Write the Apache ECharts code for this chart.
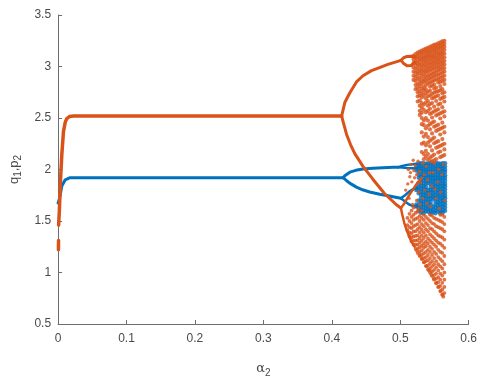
<!DOCTYPE html>
<html>
<head>
<meta charset="utf-8">
<script src="https://cdn.jsdelivr.net/npm/echarts@6/dist/echarts.min.js"></script>
<style>
  html, body { margin: 0; padding: 0; background: #fff; }
  #chart { width: 480px; height: 383px; }
</style>
</head>
<body>
<div id="chart"></div>
<script>
// Bifurcation diagram of q1 (blue) and p2 (orange) against alpha2.

// Axis ticks
const xTicks = [0, 0.1, 0.2, 0.3, 0.4, 0.5, 0.6];
const yTicks = [0.5, 1, 1.5, 2, 2.5, 3, 3.5];

// ---- q1 (blue): stable branch and period-doubling branches ----
const blueMain = [[0, 1.674], [0.0022, 1.72], [0.0055, 1.84], [0.0104, 1.9], [0.0176, 1.92], [0.4168, 1.92]];
const blueUpper = [[0.4168, 1.92], [0.419, 1.94], [0.4216, 1.957], [0.4264, 1.974], [0.435, 1.992], [0.4456, 2.005], [0.46, 2.012], [0.4745, 2.017], [0.49, 2.021], [0.497, 2.023]];
const blueUpperA = [[0.497, 2.023], [0.503, 2.035], [0.51, 2.045], [0.518, 2.052], [0.525, 2.056]];
const blueUpperB = [[0.497, 2.023], [0.503, 2.02], [0.51, 2.015], [0.518, 2.012], [0.525, 2.01]];
const blueLower = [[0.4168, 1.92], [0.4195, 1.905], [0.4216, 1.891], [0.428, 1.86], [0.436, 1.829], [0.445, 1.803], [0.4553, 1.782], [0.47, 1.76], [0.484, 1.742], [0.495, 1.728], [0.501, 1.72]];
const blueLowerA = [[0.501, 1.72], [0.507, 1.75], [0.513, 1.785], [0.519, 1.81], [0.525, 1.82]];
const blueLowerB = [[0.501, 1.72], [0.507, 1.69], [0.513, 1.66], [0.519, 1.645], [0.525, 1.635]];

// q1 chaotic band: [alpha2, [values]]
const blueBand = [
  [0.5235, [2.045, 2.02, 1.99, 1.83, 1.80, 1.66, 1.64]],
  [0.527, [2.06, 2.035, 2.01, 1.98, 1.95, 1.92, 1.87, 1.83, 1.80, 1.77, 1.70, 1.66, 1.63, 1.60]],
  [0.5305, [2.06, 2.035, 2.01, 1.985, 1.955, 1.93, 1.90, 1.87, 1.845, 1.815, 1.785, 1.755, 1.725, 1.695, 1.665, 1.635, 1.605, 1.58]],
  [0.534, [2.06, 2.03, 2.005, 1.975, 1.95, 1.92, 1.895, 1.865, 1.835, 1.81, 1.78, 1.75, 1.72, 1.69, 1.66, 1.63, 1.60, 1.575]],
  [0.5375, [2.055, 2.03, 2.0, 1.975, 1.945, 1.915, 1.89, 1.86, 1.83, 1.80, 1.775, 1.745, 1.715, 1.685, 1.655, 1.625, 1.595]],
  [0.541, [2.06, 2.035, 2.005, 1.98, 1.95, 1.925, 1.895, 1.87, 1.80, 1.77, 1.74, 1.71, 1.68, 1.65, 1.62, 1.59]],
  [0.5445, [2.06, 2.03, 2.0, 1.975, 1.945, 1.92, 1.89, 1.86, 1.83, 1.80, 1.775, 1.745, 1.715, 1.685, 1.655, 1.625, 1.595, 1.57]],
  [0.548, [2.055, 2.03, 2.0, 1.97, 1.945, 1.915, 1.885, 1.855, 1.83, 1.80, 1.77, 1.74, 1.715, 1.64, 1.61, 1.585]],
  [0.5515, [2.06, 2.035, 2.005, 1.98, 1.95, 1.92, 1.895, 1.865, 1.835, 1.81, 1.78, 1.75, 1.72, 1.69, 1.66, 1.63, 1.60, 1.575]],
  [0.555, [2.06, 2.03, 2.0, 1.975, 1.945, 1.92, 1.89, 1.86, 1.83, 1.80, 1.775, 1.745, 1.715, 1.685, 1.655, 1.625, 1.595]],
  [0.5585, [2.055, 2.03, 2.005, 1.975, 1.95, 1.92, 1.895, 1.865, 1.835, 1.805, 1.78, 1.75, 1.72, 1.69, 1.66, 1.63, 1.60, 1.575]],
  [0.562, [2.06, 2.035, 2.005, 1.98, 1.95, 1.925, 1.895, 1.865, 1.84, 1.81, 1.78, 1.75, 1.72, 1.695, 1.665, 1.635, 1.605, 1.58]],
  [0.5655, [2.06, 2.03, 2.0, 1.975, 1.945, 1.92, 1.89, 1.86, 1.835, 1.805, 1.775, 1.745, 1.72, 1.69, 1.66, 1.63, 1.60]]
];

// ---- p2 (orange): stable branch and period-doubling branches ----
const orangeStart = [[0.0005, 1.22], [0.0007, 1.31]];
const orangeMain = [[0.0008, 1.46], [0.002, 1.62], [0.0032, 1.85], [0.0055, 2.15], [0.0079, 2.37], [0.0105, 2.46], [0.0127, 2.494], [0.017, 2.515], [0.0224, 2.52], [0.4144, 2.52]];
const orangeUpper = [[0.4144, 2.52], [0.419, 2.65], [0.426, 2.74], [0.436, 2.85], [0.4456, 2.91], [0.458, 2.96], [0.4697, 2.99], [0.482, 3.02], [0.494, 3.045], [0.501, 3.06]];
const orangeUpperA = [[0.501, 3.06], [0.505, 3.085], [0.51, 3.098], [0.516, 3.10], [0.5215, 3.09]];
const orangeUpperB = [[0.501, 3.06], [0.505, 3.03], [0.51, 3.008], [0.516, 3.01], [0.5215, 3.04]];
const orangeLower = [[0.4144, 2.52], [0.4167, 2.46], [0.4216, 2.34], [0.4275, 2.24], [0.4336, 2.154], [0.4456, 2.03], [0.46, 1.906], [0.477, 1.767], [0.494, 1.66], [0.501, 1.627]];
const orangeLowerA = [[0.501, 1.627], [0.506, 1.67], [0.512, 1.74], [0.518, 1.80], [0.525, 1.87], [0.532, 1.92]];
const orangeLowerB = [[0.501, 1.627], [0.503, 1.56], [0.506, 1.48], [0.510, 1.40], [0.515, 1.32], [0.521, 1.25]];

// p2 chaotic region, upper lobe: [alpha2, [values]]
const orangeTop = [
  [0.5195, [3.105, 3.07, 3.035, 2.99, 2.95, 2.91, 2.87]],
  [0.5225, [3.12, 3.09, 3.05, 3.02, 2.98, 2.94, 2.90, 2.86, 2.82, 2.78]],
  [0.5255, [3.135, 3.10, 3.065, 3.03, 2.995, 2.955, 2.92, 2.88, 2.83, 2.79, 2.75, 2.71, 2.66]],
  [0.5285, [3.145, 3.115, 3.08, 3.045, 3.01, 2.97, 2.935, 2.89, 2.85, 2.81, 2.76, 2.72, 2.67, 2.62, 2.57, 2.53]],
  [0.5315, [3.155, 3.125, 3.09, 3.06, 3.02, 2.985, 2.95, 2.91, 2.865, 2.83, 2.785, 2.74, 2.70, 2.645, 2.60, 2.55, 2.50, 2.44, 2.36, 2.25, 2.17]],
  [0.5345, [3.165, 3.135, 3.10, 3.07, 3.035, 3.0, 2.96, 2.925, 2.885, 2.85, 2.80, 2.765, 2.72, 2.63, 2.58, 2.475, 2.43, 2.32, 2.26, 2.15, 2.10]],
  [0.5375, [3.175, 3.145, 3.11, 3.08, 3.045, 3.01, 2.975, 2.94, 2.90, 2.86, 2.82, 2.78, 2.74, 2.69, 2.65, 2.555, 2.50, 2.40, 2.345, 2.235, 2.18, 2.125]],
  [0.5405, [3.18, 3.15, 3.12, 3.09, 3.055, 3.02, 2.985, 2.95, 2.91, 2.875, 2.835, 2.755, 2.71, 2.665, 2.62, 2.57, 2.475, 2.425, 2.315, 2.26, 2.15, 2.095]],
  [0.5435, [3.19, 3.16, 3.13, 3.10, 3.065, 3.03, 2.995, 2.96, 2.92, 2.885, 2.845, 2.805, 2.765, 2.72, 2.635, 2.59, 2.54, 2.44, 2.39, 2.28, 2.225, 2.115]],
  [0.5465, [3.20, 3.17, 3.14, 3.105, 3.075, 3.04, 3.005, 2.97, 2.93, 2.895, 2.855, 2.815, 2.735, 2.69, 2.645, 2.55, 2.505, 2.455, 2.35, 2.295, 2.185, 2.13, 2.08]],
  [0.5495, [3.21, 3.18, 3.15, 3.115, 3.085, 3.05, 3.015, 2.98, 2.94, 2.905, 2.865, 2.825, 2.785, 2.745, 2.70, 2.61, 2.565, 2.465, 2.415, 2.31, 2.255, 2.145, 2.09]],
  [0.5525, [3.215, 3.185, 3.155, 3.125, 3.09, 3.06, 3.025, 2.99, 2.95, 2.915, 2.875, 2.795, 2.755, 2.71, 2.665, 2.575, 2.525, 2.425, 2.375, 2.265, 2.21, 2.10]],
  [0.5555, [3.225, 3.195, 3.165, 3.13, 3.10, 3.065, 3.03, 2.995, 2.96, 2.92, 2.88, 2.845, 2.76, 2.72, 2.63, 2.585, 2.535, 2.435, 2.385, 2.275, 2.22, 2.165]],
  [0.5585, [3.235, 3.205, 3.175, 3.14, 3.11, 3.075, 3.04, 3.005, 2.97, 2.93, 2.89, 2.85, 2.81, 2.77, 2.685, 2.64, 2.545, 2.495, 2.395, 2.34, 2.23, 2.175, 2.12]],
  [0.5615, [3.245, 3.215, 3.185, 3.15, 3.12, 3.085, 3.05, 3.015, 2.98, 2.94, 2.90, 2.86, 2.78, 2.74, 2.695, 2.605, 2.555, 2.455, 2.405, 2.295, 2.24, 2.13]],
  [0.5645, [3.25, 3.22, 3.19, 3.16, 3.125, 3.09, 3.055, 3.02, 2.985, 2.95, 2.91, 2.87, 2.83, 2.75, 2.705, 2.66, 2.565, 2.515, 2.415, 2.36, 2.25, 2.195, 2.14]]
];

// p2 chaotic region, lower lobe: [alpha2, [values]]
const orangeBottom = [
  [0.5105, [1.41, 1.46, 1.53]],
  [0.5135, [1.35, 1.39, 1.44, 1.50, 1.57]],
  [0.5165, [1.30, 1.34, 1.38, 1.43, 1.48, 1.54, 1.60]],
  [0.5195, [1.27, 1.31, 1.35, 1.40, 1.45, 1.51, 1.56, 1.63]],
  [0.5225, [1.23, 1.27, 1.31, 1.355, 1.40, 1.46, 1.52, 1.58]],
  [0.5255, [1.19, 1.23, 1.27, 1.315, 1.36, 1.42, 1.47, 1.53, 1.59]],
  [0.5285, [1.16, 1.20, 1.245, 1.29, 1.335, 1.39, 1.44, 1.50, 1.55]],
  [0.5315, [1.13, 1.17, 1.215, 1.26, 1.31, 1.36, 1.415, 1.47, 1.53]],
  [0.5345, [1.10, 1.14, 1.185, 1.24, 1.28, 1.335, 1.39, 1.45, 1.51, 1.56]],
  [0.5375, [1.065, 1.11, 1.15, 1.20, 1.255, 1.30, 1.36, 1.42, 1.48, 1.54]],
  [0.5405, [1.03, 1.07, 1.12, 1.17, 1.22, 1.28, 1.33, 1.40, 1.46, 1.52]],
  [0.5435, [1.0, 1.04, 1.09, 1.14, 1.20, 1.25, 1.31, 1.37, 1.43, 1.50, 1.56]],
  [0.5465, [0.965, 1.01, 1.06, 1.11, 1.17, 1.23, 1.29, 1.35, 1.42, 1.48, 1.55]],
  [0.5495, [0.93, 0.975, 1.025, 1.08, 1.14, 1.20, 1.27, 1.33, 1.40, 1.47, 1.53]],
  [0.5525, [0.895, 0.94, 0.99, 1.05, 1.11, 1.18, 1.25, 1.31, 1.38, 1.45, 1.52]],
  [0.5555, [0.86, 0.905, 0.955, 1.02, 1.08, 1.15, 1.22, 1.29, 1.36, 1.44, 1.51]],
  [0.5585, [0.82, 0.87, 0.93, 0.99, 1.06, 1.13, 1.20, 1.28, 1.35, 1.43, 1.50, 1.56]],
  [0.5615, [0.785, 0.835, 0.90, 0.97, 1.04, 1.11, 1.19, 1.26, 1.34, 1.42, 1.49, 1.56]],
  [0.5645, [0.80, 0.86, 0.93, 1.0, 1.08, 1.16, 1.24, 1.32, 1.40, 1.47, 1.54]]
];

// p2 points along the lower lobe's left edge
const orangeEdge = [[0.524, 1.215], [0.528, 1.17], [0.5315, 1.135], [0.535, 1.10], [0.5385, 1.06], [0.542, 1.02], [0.5455, 0.98], [0.549, 0.94], [0.5525, 0.90], [0.556, 0.86], [0.559, 0.82], [0.5615, 0.785], [0.563, 0.765]];

// p2 points scattered over the q1 band
const orangeMid = [[0.508, 1.80], [0.511, 1.86], [0.514, 1.93], [0.512, 2.0], [0.516, 2.05], [0.519, 2.09], [0.515, 1.97], [0.52, 1.99], [0.522, 2.04], [0.524, 1.95], [0.526, 2.08], [0.528, 1.98], [0.53, 1.87], [0.527, 1.78], [0.524, 1.70], [0.529, 1.66], [0.533, 1.72], [0.536, 1.80], [0.535, 1.95], [0.538, 2.03], [0.54, 1.90], [0.542, 1.76], [0.544, 1.64], [0.546, 1.84], [0.548, 1.97], [0.55, 2.06], [0.552, 1.72], [0.555, 1.88], [0.557, 1.62], [0.559, 1.78], [0.561, 1.95], [0.563, 2.05], [0.565, 1.70], [0.545, 2.08], [0.533, 2.06], [0.539, 1.67], [0.556, 2.0], [0.531, 1.60], [0.518, 1.66], [0.513, 1.72], [0.521, 1.92], [0.517, 1.88], [0.526, 1.62], [0.543, 1.97], [0.551, 1.81]];

const BLUE = '#0072BD';
const ORANGE = '#D95319';
const AXIS = '#6e6e6e';
const TEXT = '#4a4a4a';

function columnsToPoints(cols) {
  return cols.flatMap(([x, ys]) => ys.map(y => [x, y]));
}

function branch(data, color, width, z) {
  return {
    type: 'line', data: data, showSymbol: false, symbol: 'none',
    lineStyle: { color: color, width: width, cap: 'round', join: 'round' },
    z: z, silent: true
  };
}

function cloud(data, color, size, z) {
  return {
    type: 'scatter', data: data, symbol: 'circle', symbolSize: size,
    itemStyle: { color: color }, z: z, silent: true
  };
}

const chart = echarts.init(document.getElementById('chart'), null, { renderer: 'canvas' });

chart.setOption({
  animation: false,
  backgroundColor: '#ffffff',
  grid: { left: 54, top: 15, width: 416, height: 323 },
  xAxis: {
    type: 'value',
    min: xTicks[0], max: xTicks[xTicks.length - 1], interval: 0.1,
    name: '{a|α}{s|2}',
    nameLocation: 'middle', nameGap: 36,
    nameTextStyle: {
      rich: {
        a: { fontFamily: 'DejaVu Serif', fontSize: 13, color: TEXT },
        s: { fontFamily: 'Liberation Sans', fontSize: 10, color: TEXT, padding: [8, 0, 0, 0] }
      }
    },
    axisLine: { show: true, lineStyle: { color: AXIS, width: 1 } },
    axisTick: { show: true, inside: true, length: 4, lineStyle: { color: AXIS } },
    splitLine: { show: false },
    axisLabel: {
      margin: 9, color: TEXT, fontSize: 12, fontFamily: 'Liberation Sans',
      formatter: v => String(+v.toFixed(1))
    }
  },
  yAxis: {
    type: 'value',
    min: yTicks[0], max: yTicks[yTicks.length - 1], interval: 0.5,
    name: '{b|q}{s|1}{b|,p}{s|2}',
    nameLocation: 'middle', nameGap: 28, nameRotate: 90,
    nameTextStyle: {
      rich: {
        b: { fontFamily: 'Liberation Sans', fontSize: 13, color: TEXT },
        s: { fontFamily: 'Liberation Sans', fontSize: 10, color: TEXT, padding: [8, 0, 0, 0] }
      }
    },
    axisLine: { show: true, lineStyle: { color: AXIS, width: 1 } },
    axisTick: { show: true, inside: true, length: 4, lineStyle: { color: AXIS } },
    splitLine: { show: false },
    axisLabel: {
      margin: 7, color: TEXT, fontSize: 12, fontFamily: 'Liberation Sans',
      formatter: v => String(+v.toFixed(1))
    }
  },
  series: [
    cloud(columnsToPoints(blueBand), BLUE, 4.5, 2),
    branch(blueMain, BLUE, 3, 3),
    branch(blueUpper, BLUE, 3, 3),
    branch(blueUpperA, BLUE, 2.5, 3),
    branch(blueUpperB, BLUE, 2.5, 3),
    branch(blueLower, BLUE, 3, 3),
    branch(blueLowerA, BLUE, 2.5, 3),
    branch(blueLowerB, BLUE, 2.5, 3),
    branch(orangeStart, ORANGE, 3.5, 4),
    branch(orangeMain, ORANGE, 3.5, 4),
    branch(orangeUpper, ORANGE, 3, 4),
    branch(orangeUpperA, ORANGE, 3, 4),
    branch(orangeUpperB, ORANGE, 3, 4),
    branch(orangeLower, ORANGE, 3, 4),
    branch(orangeLowerA, ORANGE, 2.5, 4),
    branch(orangeLowerB, ORANGE, 2.5, 4),
    cloud(columnsToPoints(orangeTop), ORANGE, 4.2, 5),
    cloud(columnsToPoints(orangeBottom), ORANGE, 3.8, 5),
    cloud(orangeEdge, ORANGE, 3.8, 5),
    cloud(orangeMid, ORANGE, 3.4, 5)
  ]
});
</script>
</body>
</html>
